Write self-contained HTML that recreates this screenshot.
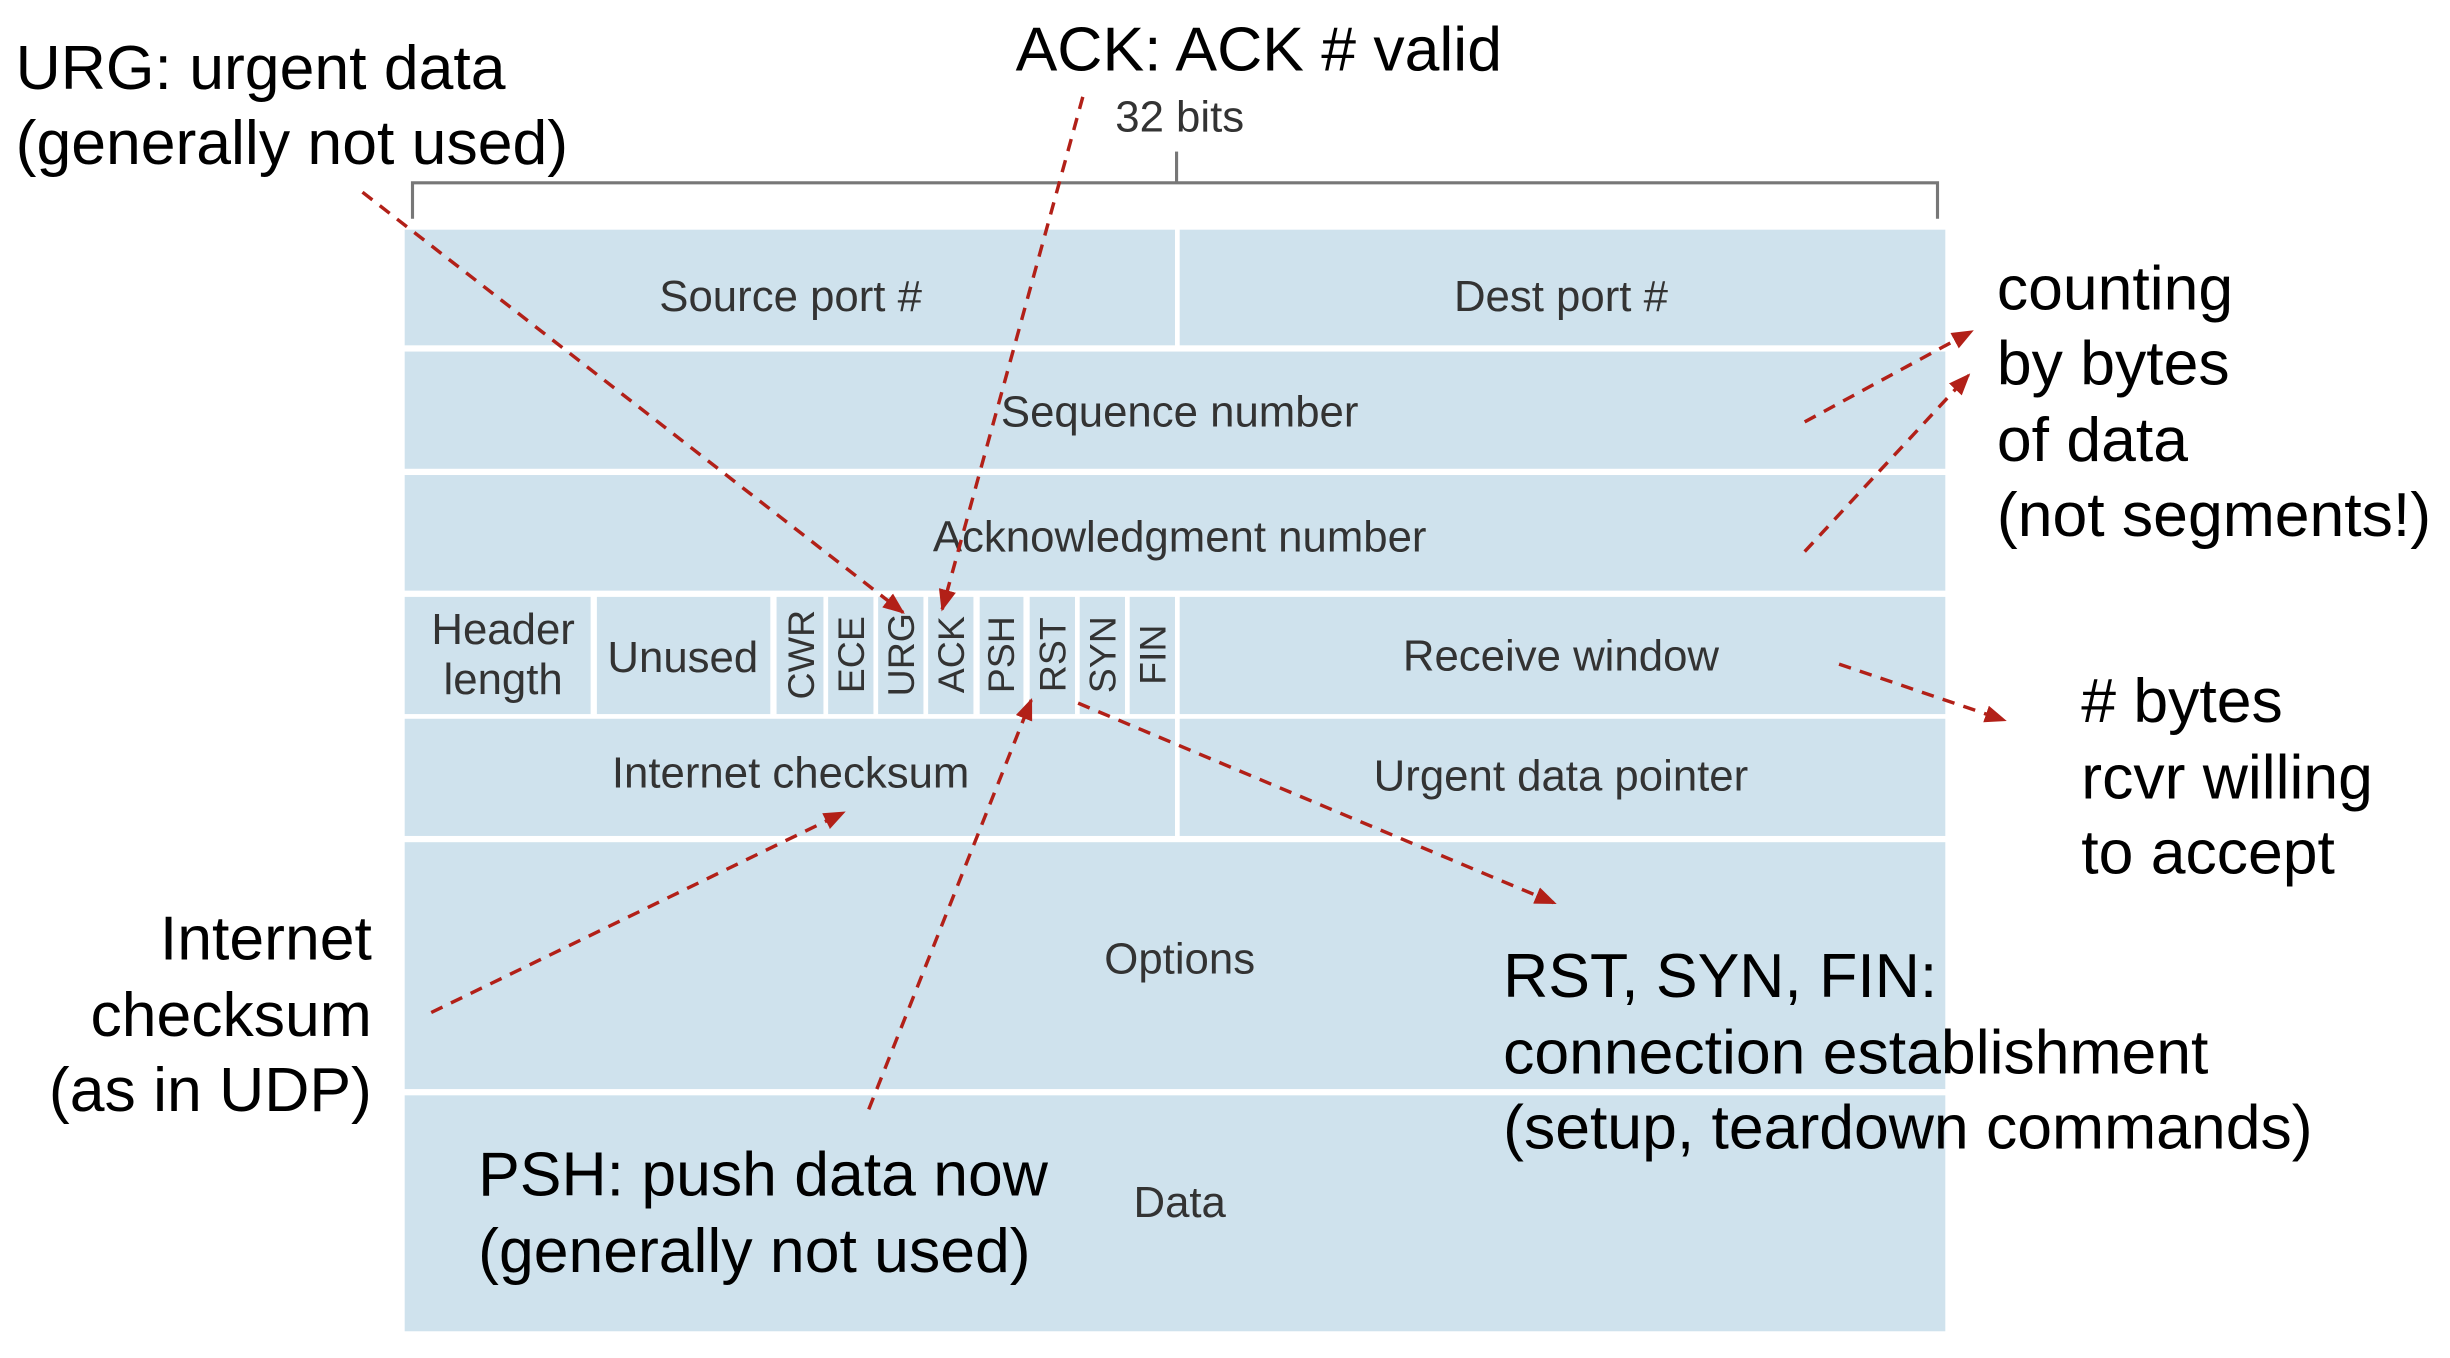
<!DOCTYPE html>
<html><head><meta charset="utf-8"><style>
html,body{margin:0;padding:0;background:#fff;}
svg{display:block;}
.t{font-family:"Liberation Sans",sans-serif;font-size:28px;fill:#333;}
.v{font-family:"Liberation Sans",sans-serif;font-size:24px;fill:#333;}
.b{font-family:"Liberation Sans",sans-serif;font-size:40px;fill:#000;}
</style></head><body>
<svg width="2450" height="1358" viewBox="0 0 1568 869.1" xmlns="http://www.w3.org/2000/svg">
<defs>
<marker id="m" viewBox="0 0 10 10" refX="9" refY="5" markerWidth="14" markerHeight="14" orient="auto" markerUnits="userSpaceOnUse"><path d="M0,1 L10,5 L0,9z" fill="#b22018"/></marker></defs>
<g stroke="#777" stroke-width="2" fill="none">
<path d="M264,140 V117 H1240 V140"/><path d="M753,97 V117"/></g>
<text class="t" x="755" y="84" text-anchor="middle" font-size="25">32 bits</text>
<g fill="#cfe2ed">
<rect x="259" y="147" width="493" height="74"/><rect x="755" y="147" width="490" height="74"/>
<rect x="259" y="225" width="986" height="75"/>
<rect x="259" y="304" width="986" height="74"/>
<rect x="259" y="382" width="119" height="75"/><rect x="382" y="382" width="111" height="75"/>
<rect x="497" y="382" width="30" height="75"/><rect x="530" y="382" width="29" height="75"/>
<rect x="562" y="382" width="29" height="75"/><rect x="594" y="382" width="29" height="75"/>
<rect x="627" y="382" width="28" height="75"/><rect x="659" y="382" width="29" height="75"/>
<rect x="691" y="382" width="29" height="75"/><rect x="723" y="382" width="29" height="75"/>
<rect x="755" y="382" width="490" height="75"/>
<rect x="259" y="460" width="493" height="75"/><rect x="755" y="460" width="490" height="75"/>
<rect x="259" y="539" width="986" height="158"/>
<rect x="259" y="701" width="986" height="151"/>
</g>
<g class="t" text-anchor="middle">
<text x="506" y="199">Source port #</text><text x="999" y="199">Dest port #</text>
<text x="755" y="273">Sequence number</text>
<text x="755" y="353">Acknowledgment number</text>
<text x="322" y="412">Header</text><text x="322" y="444">length</text>
<text x="437" y="430">Unused</text>
<text x="999" y="429">Receive window</text>
<text x="506" y="504">Internet checksum</text><text x="999" y="506">Urgent data pointer</text>
<text x="755" y="623">Options</text>
<text x="755" y="779">Data</text>
</g>
<g class="v" text-anchor="middle">
<text transform="translate(521,419) rotate(-90)">CWR</text>
<text transform="translate(553,419) rotate(-90)">ECE</text>
<text transform="translate(585,419) rotate(-90)">URG</text>
<text transform="translate(617,419) rotate(-90)">ACK</text>
<text transform="translate(649,419) rotate(-90)">PSH</text>
<text transform="translate(682,419) rotate(-90)">RST</text>
<text transform="translate(714,419) rotate(-90)">SYN</text>
<text transform="translate(746,419) rotate(-90)">FIN</text>
</g>
<g stroke="#b22018" stroke-width="2.2" stroke-dasharray="8,6" fill="none" marker-end="url(#m)">
<line x1="232" y1="123" x2="578" y2="392"/>
<line x1="693" y1="62" x2="603" y2="390"/>
<line x1="1155" y1="270" x2="1262" y2="212"/>
<line x1="1155" y1="353" x2="1260" y2="240"/>
<line x1="1177" y1="425" x2="1283" y2="461"/>
<line x1="690" y1="450" x2="995" y2="578"/>
<line x1="556" y1="710" x2="660" y2="448"/>
<line x1="276" y1="648" x2="540" y2="520"/>
</g>
<g class="b">
<text x="10" y="57">URG: urgent data</text><text x="10" y="105">(generally not used)</text>
<text x="650" y="45">ACK: ACK # valid</text>
<text x="1278" y="198">counting</text><text x="1278" y="246">by bytes</text><text x="1278" y="295">of data</text><text x="1278" y="343">(not segments!)</text>
<text x="1332" y="462"># bytes</text><text x="1332" y="511">rcvr willing</text><text x="1332" y="559">to accept</text>
<text x="238" y="614" text-anchor="end">Internet</text><text x="238" y="663" text-anchor="end">checksum</text><text x="238" y="711" text-anchor="end">(as in UDP)</text>
<text x="962" y="638">RST, SYN, FIN:</text><text x="962" y="687">connection establishment</text><text x="962" y="735">(setup, teardown commands)</text>
<text x="306" y="765">PSH: push data now</text><text x="306" y="814">(generally not used)</text>
</g>
</svg>
</body></html>
